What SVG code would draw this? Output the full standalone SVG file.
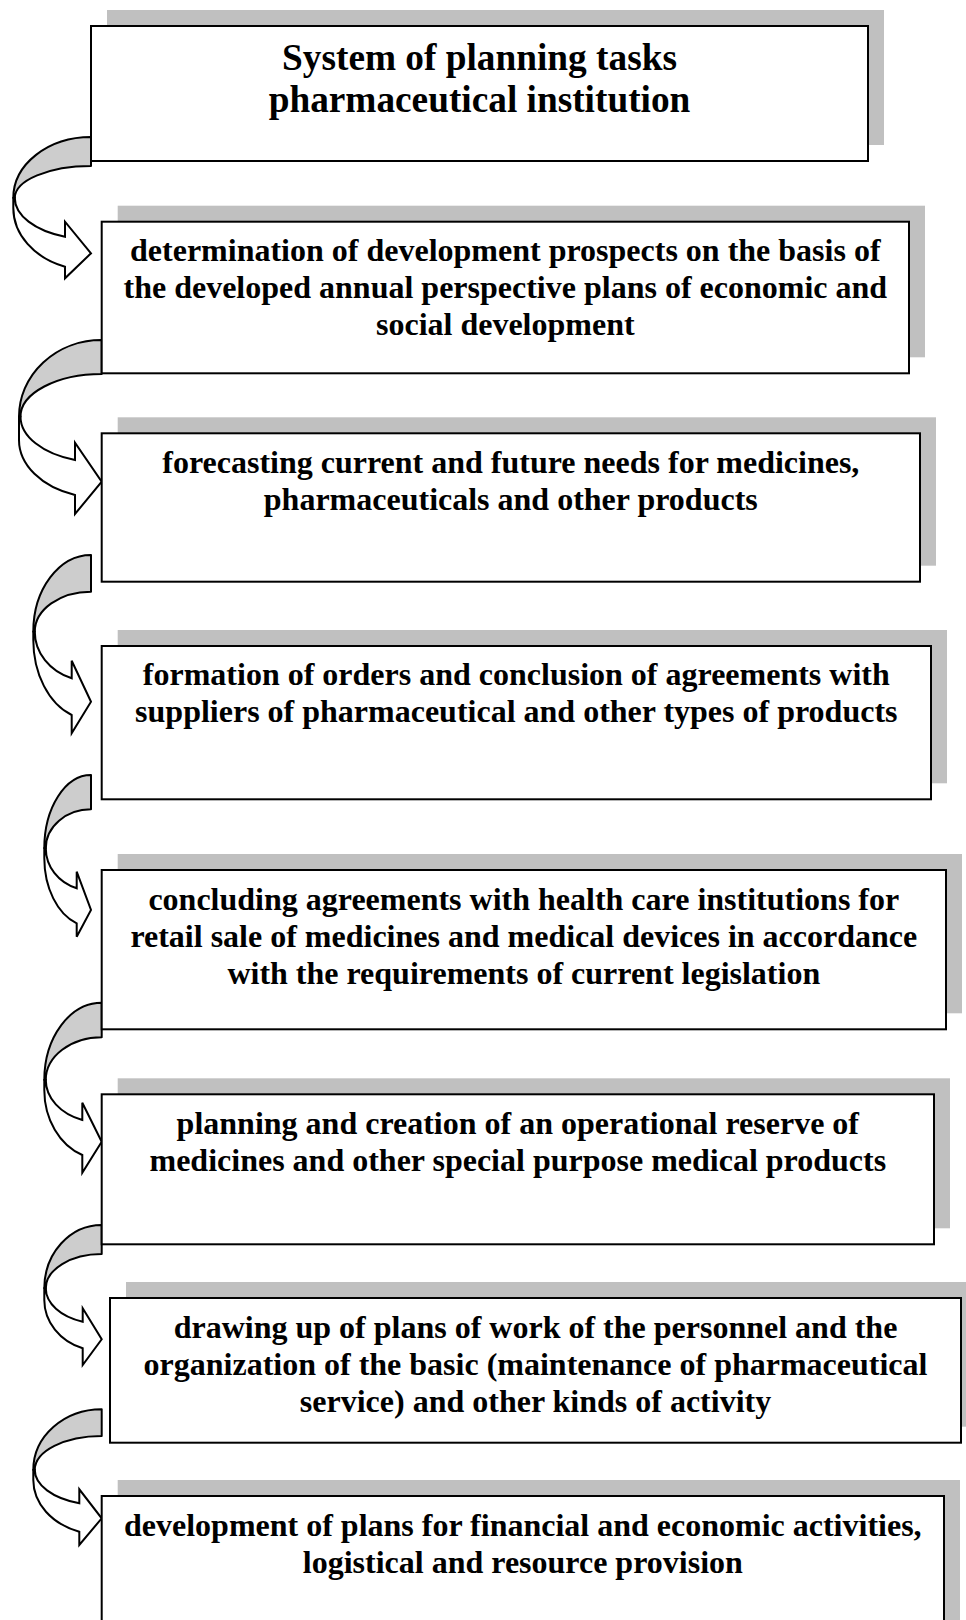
<svg xmlns="http://www.w3.org/2000/svg" width="966" height="1620" viewBox="0 0 966 1620">
  <style>
    .shadow { fill: #c0c0c0; }
    .box { fill: #ffffff; stroke: #000000; stroke-width: 2; }
    .txt { font-family: "Liberation Serif", "Times New Roman", serif; font-weight: bold; font-size: 32px; text-anchor: middle; fill: #000000; }
    .title { font-size: 37.3px; }
    .back { fill: #cdcdcd; stroke: #000000; stroke-width: 2; stroke-linejoin: round; }
    .front { fill: #ffffff; stroke: #000000; stroke-width: 2; stroke-linejoin: miter; }
  </style>

  <rect width="966" height="1620" fill="#ffffff"/>

  <!-- curved twisted arrows between consecutive boxes -->
  <g id="connectors">
    <g id="c1">
      <path class="back" d="M91,137 A77.7,61 0 0 0 13.3,198 L14.8,198 A76.2,32 0 0 1 91,166 Z"/>
      <path class="front" d="M13.3,198 L13.3,208 A77.7,62.3 0 0 0 65,266.7 L65,278.3 L91,253.3 L65,221.7 L65,236.7 A76.2,41.2 0 0 1 14.8,198 Z"/>
    </g>
    <g id="c2">
      <path class="back" d="M101.7,340 A82.7,76.7 0 0 0 19,416.7 L20.5,416.7 A81.2,42.7 0 0 1 101.7,374 Z"/>
      <path class="front" d="M19,416.7 L19,440 A82.7,58.1 0 0 0 75,495 L75,514 L101.7,481.7 L75,442.7 L75,460 A81.2,45.9 0 0 1 20.5,416.7 Z"/>
    </g>
    <g id="c3">
      <path class="back" d="M91,555 A57.7,76.7 0 0 0 33.3,631.7 L34.8,631.7 A56.2,40 0 0 1 91,591.7 Z"/>
      <path class="front" d="M33.3,631.7 L33.3,640 A57.7,79.6 0 0 0 71.7,715 L71.7,733.3 L91,701.7 L71.7,660.7 L71.7,678.3 A56.2,49.6 0 0 1 34.8,631.7 Z"/>
    </g>
    <g id="c4">
      <path class="back" d="M91,775 A46.7,73.3 0 0 0 44.3,848.3 L45.8,848.3 A45.2,39 0 0 1 91,809.3 Z"/>
      <path class="front" d="M44.3,848.3 L44.3,858 A46.7,68.6 0 0 0 76.7,923.3 L76.7,936.7 L91,910 L76.7,871.7 L76.7,888.3 A45.2,42.2 0 0 1 45.8,848.3 Z"/>
    </g>
    <g id="c5">
      <path class="back" d="M101.7,1002.7 A57.4,77.3 0 0 0 44.3,1080 L45.8,1080 A55.9,42.7 0 0 1 101.7,1037.3 Z"/>
      <path class="front" d="M44.3,1080 L44.3,1090 A57.4,69.1 0 0 0 82.3,1155 L82.3,1172.7 L101.7,1141.7 L82.3,1102.7 L82.3,1120 A55.9,42.6 0 0 1 45.8,1080 Z"/>
    </g>
    <g id="c6">
      <path class="back" d="M101.7,1225 A57.4,63.3 0 0 0 44.3,1288.3 L45.8,1288.3 A55.9,34.3 0 0 1 101.7,1254 Z"/>
      <path class="front" d="M44.3,1288.3 L44.3,1300 A57.4,51.2 0 0 0 82.7,1348.3 L82.7,1365 L101.7,1339.3 L82.7,1308.3 L82.7,1321.7 A55.9,35.5 0 0 1 45.8,1288.3 Z"/>
    </g>
    <g id="c7">
      <path class="back" d="M101.7,1409.3 A68.4,60.7 0 0 0 33.3,1470 L34.8,1470 A66.9,34 0 0 1 101.7,1436 Z"/>
      <path class="front" d="M33.3,1470 L33.3,1480 A68.4,54.7 0 0 0 79.3,1531.7 L79.3,1545 L101.7,1518.3 L79.3,1489.3 L79.3,1503.3 A66.9,35.3 0 0 1 34.8,1470 Z"/>
    </g>
  </g>

  <g id="n0">
    <rect class="shadow" x="107" y="10" width="777" height="135"/>
    <rect class="box" x="91" y="26" width="777" height="135"/>
    <text class="txt title" x="479.5" y="70">System of planning tasks</text>
    <text class="txt title" x="479.5" y="112">pharmaceutical institution</text>
  </g>

  <g id="n1">
    <rect class="shadow" x="117.7" y="205.7" width="807.3" height="151.6"/>
    <rect class="box" x="101.7" y="221.7" width="807.3" height="151.6"/>
    <text class="txt" x="505.3" y="260.5">determination of development prospects on the basis of</text>
    <text class="txt" x="505.3" y="297.5">the developed annual perspective plans of economic and</text>
    <text class="txt" x="505.3" y="334.5">social development</text>
  </g>

  <g id="n2">
    <rect class="shadow" x="117.7" y="417.3" width="818.3" height="148.4"/>
    <rect class="box" x="101.7" y="433.3" width="818.3" height="148.4"/>
    <text class="txt" x="510.8" y="472.5">forecasting current and future needs for medicines,</text>
    <text class="txt" x="510.8" y="509.5">pharmaceuticals and other products</text>
  </g>

  <g id="n3">
    <rect class="shadow" x="117.7" y="630" width="829.3" height="153.3"/>
    <rect class="box" x="101.7" y="646" width="829.3" height="153.3"/>
    <text class="txt" x="516.3" y="685">formation of orders and conclusion of agreements with</text>
    <text class="txt" x="516.3" y="722">suppliers of pharmaceutical and other types of products</text>
  </g>

  <g id="n4">
    <rect class="shadow" x="117.7" y="854" width="844.3" height="159.3"/>
    <rect class="box" x="101.7" y="870" width="844.3" height="159.3"/>
    <text class="txt" x="523.8" y="909.5">concluding agreements with health care institutions for</text>
    <text class="txt" x="523.8" y="946.5">retail sale of medicines and medical devices in accordance</text>
    <text class="txt" x="523.8" y="983.5">with the requirements of current legislation</text>
  </g>

  <g id="n5">
    <rect class="shadow" x="117.7" y="1078.3" width="832.3" height="150"/>
    <rect class="box" x="101.7" y="1094.3" width="832.3" height="150"/>
    <text class="txt" x="517.8" y="1133.5">planning and creation of an operational reserve of</text>
    <text class="txt" x="517.8" y="1170.5">medicines and other special purpose medical products</text>
  </g>

  <g id="n6">
    <rect class="shadow" x="126" y="1282" width="851" height="144.7"/>
    <rect class="box" x="110" y="1298" width="851" height="144.7"/>
    <text class="txt" x="535.5" y="1337.5">drawing up of plans of work of the personnel and the</text>
    <text class="txt" x="535.5" y="1374.5">organization of the basic (maintenance of pharmaceutical</text>
    <text class="txt" x="535.5" y="1411.5">service) and other kinds of activity</text>
  </g>

  <g id="n7">
    <rect class="shadow" x="117.7" y="1480" width="842.3" height="180"/>
    <rect class="box" x="101.7" y="1496" width="842.3" height="180"/>
    <text class="txt" x="522.8" y="1535.5">development of plans for financial and economic activities,</text>
    <text class="txt" x="522.8" y="1572.5">logistical and resource provision</text>
  </g>
</svg>
